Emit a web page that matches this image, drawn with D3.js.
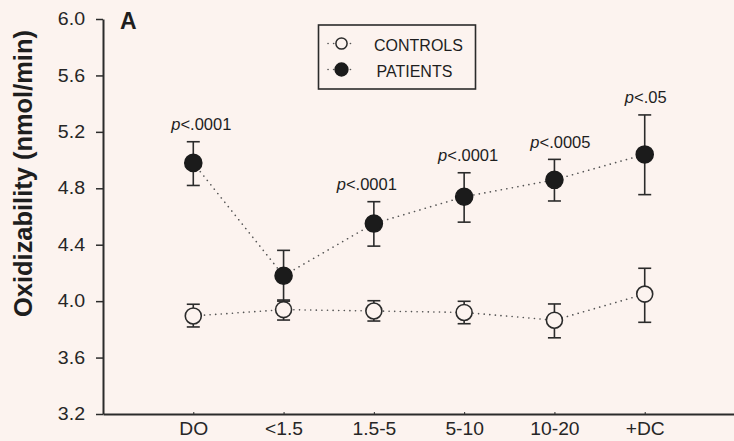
<!DOCTYPE html>
<html>
<head>
<meta charset="utf-8">
<script src="https://cdn.jsdelivr.net/npm/d3@7"></script>
<style>
  html, body { margin: 0; padding: 0; background: #fcf3ef; }
  svg { display: block; }
</style>
</head>
<body>
<svg id="chart" width="734" height="441"></svg>
<script>
// ---- data ----
const categories = ["DO", "<1.5", "1.5-5", "5-10", "10-20", "+DC"];
const patientsMean = [4.98, 4.18, 4.55, 4.74, 4.86, 5.04];
const patientsLow  = [4.82, 4.00, 4.39, 4.56, 4.71, 4.755];
const patientsHigh = [5.13, 4.36, 4.705, 4.91, 5.005, 5.32];
const controlsMean = [3.895, 3.94, 3.93, 3.92, 3.865, 4.05];
const controlsLow  = [3.817, 3.866, 3.859, 3.84, 3.74, 3.85];
const controlsHigh = [3.978, 4.008, 4.003, 3.999, 3.98, 4.233];
const pPrefix = ["p", "", "p", "p", "p", "p"];
const pValues = ["<.0001", "", "<.0001", "<.0001", "<.0005", "<.05"];
const yTicks = [3.2, 3.6, 4.0, 4.4, 4.8, 5.2, 5.6, 6.0];
const seriesNames = ["CONTROLS", "PATIENTS"];

// ---- layout ----
const bg = "#fcf3ef";
const ink = "#2b2b2b";
const svg = d3.select("#chart");
const axisLeftX = 103, axisBottomY = 414, plotTop = 19, plotRight = 735;
const pLabelNudge = [8, 0, -7, 4, 6, 1];
const tickFont = "Liberation Sans, Arial, sans-serif";

const x = d3.scaleLinear().domain([0, categories.length + 1]).range([axisLeftX, plotRight]);
const y = d3.scaleLinear().domain([3.2, 6.0]).range([axisBottomY, plotTop]);

// y axis
const yAxis = svg.append("g")
  .attr("transform", `translate(${axisLeftX},0)`)
  .call(d3.axisLeft(y).tickValues(yTicks).tickFormat(d3.format(".1f")).tickSizeOuter(0).tickSizeInner(7).tickPadding(9));
yAxis.select(".domain").attr("stroke", ink).attr("stroke-width", 2);
yAxis.selectAll(".tick line").attr("stroke", ink).attr("stroke-width", 1.5);
yAxis.selectAll(".tick text").attr("font-family", tickFont)
  .attr("font-size", 17.5).attr("fill", "#262626")
  .attr("transform", "scale(1.12,1)");

// x axis
const xAxis = svg.append("g")
  .attr("transform", `translate(0,${axisBottomY})`)
  .call(d3.axisBottom(x).tickValues(d3.range(1, categories.length + 1))
    .tickFormat(i => categories[i - 1]).tickSizeOuter(0).tickSizeInner(-2).tickPadding(9));
xAxis.select(".domain").attr("stroke", ink).attr("stroke-width", 2);
xAxis.selectAll(".tick line").attr("stroke", ink).attr("stroke-width", 1);
xAxis.selectAll(".tick text").attr("font-family", tickFont)
  .attr("font-size", 17.5).attr("fill", "#262626")
  .attr("transform", "scale(1.1,1)");

// y axis title, fitted to its span in the reference
const titleTop = 30, titleBottom = 317;
const title = svg.append("text")
  .attr("transform", `translate(32,${(titleTop + titleBottom) / 2}) rotate(-90)`)
  .attr("text-anchor", "middle")
  .attr("font-family", "Liberation Sans, Arial, sans-serif")
  .attr("font-weight", "bold")
  .attr("font-size", 20)
  .attr("fill", "#1e1e1e")
  .text("Oxidizability (nmol/min)");
const tl = title.node().getComputedTextLength();
title.attr("font-size", 20 * (titleBottom - titleTop) / tl);

// panel letter
svg.append("text")
  .attr("x", 120).attr("y", 29)
  .attr("font-family", tickFont)
  .attr("font-weight", "bold").attr("font-size", 23).attr("fill", "#1e1e1e")
  .text("A");

// connecting dotted lines
const lineGen = d3.line().x((d, i) => x(i + 1)).y(d => y(d));
[controlsMean, patientsMean].forEach(arr => {
  svg.append("path").datum(arr)
    .attr("d", lineGen)
    .attr("fill", "none")
    .attr("stroke", "#555")
    .attr("stroke-width", 1.6)
    .attr("stroke-linecap", "round")
    .attr("stroke-dasharray", "0.1,5.5");
});

// error bars + markers
function drawSeries(mean, low, high, filled, r) {
  const g = svg.append("g");
  categories.forEach((c, i) => {
    const cx = x(i + 1);
    g.append("line").attr("x1", cx).attr("x2", cx).attr("y1", y(low[i])).attr("y2", y(high[i]))
      .attr("stroke", ink).attr("stroke-width", 1.6);
    [low[i], high[i]].forEach(v => {
      g.append("line").attr("x1", cx - 6.5).attr("x2", cx + 6.5).attr("y1", y(v)).attr("y2", y(v))
        .attr("stroke", ink).attr("stroke-width", 1.6);
    });
  });
  g.selectAll("circle").data(mean).join("circle")
    .attr("cx", (d, i) => x(i + 1)).attr("cy", d => y(d)).attr("r", r)
    .attr("fill", filled ? "#1b1b1b" : bg)
    .attr("stroke", filled ? "#1b1b1b" : ink).attr("stroke-width", 1.6);
}
drawSeries(controlsMean, controlsLow, controlsHigh, false, 8);
drawSeries(patientsMean, patientsLow, patientsHigh, true, 8.5);

// p-value labels
categories.forEach((c, i) => {
  if (!pValues[i]) return;
  const t = svg.append("text")
    .attr("x", x(i + 1) + pLabelNudge[i]).attr("y", y(patientsHigh[i]) - 11.5)
    .attr("text-anchor", "middle")
    .attr("font-family", tickFont)
    .attr("font-size", 16.5).attr("fill", "#1e1e1e");
  t.append("tspan").attr("font-style", "italic").text(pPrefix[i]);
  t.append("tspan").text(pValues[i]);
});

// legend
const lg = svg.append("g");
lg.append("rect").attr("x", 318.5).attr("y", 25).attr("width", 157).attr("height", 64)
  .attr("fill", "none").attr("stroke", ink).attr("stroke-width", 1.6);
seriesNames.forEach((name, i) => {
  const cy = 43.5 + i * 26;
  lg.append("line").attr("x1", 328).attr("x2", 356).attr("y1", cy).attr("y2", cy)
    .attr("stroke", "#555").attr("stroke-width", 1.6).attr("stroke-linecap", "round")
    .attr("stroke-dasharray", "0.1,5.5");
  lg.append("circle").attr("cx", 341.5).attr("cy", cy).attr("r", i === 0 ? 5.6 : 6.4)
    .attr("fill", i === 0 ? bg : "#1b1b1b").attr("stroke", i === 0 ? ink : "#1b1b1b").attr("stroke-width", 1.5);
  lg.append("text").attr("x", i === 0 ? 374 : 376.5).attr("y", cy + 7)
    .attr("font-family", tickFont)
    .attr("font-size", 16).attr("fill", "#1e1e1e")
    .text(name);
});
</script>
</body>
</html>
